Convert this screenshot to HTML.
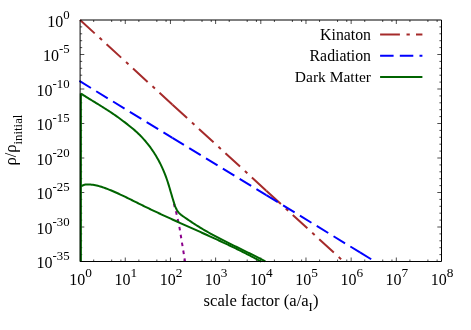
<!DOCTYPE html>
<html><head><meta charset="utf-8"><title>plot</title>
<style>html,body{margin:0;padding:0;background:#fff;}svg{display:block;will-change:transform;}text{font-family:"Liberation Serif",serif;fill:#000;}</style></head><body>
<svg width="471" height="330" viewBox="0 0 471 330">
<rect x="0" y="0" width="471" height="330" fill="#fff"/>
<path d="M93.70 261.5v-2M93.70 20.0v2M111.68 261.5v-2M111.68 20.0v2M120.90 261.5v-2M120.90 20.0v2M125.27 261.5v-4M125.27 20.0v4M138.87 261.5v-2M138.87 20.0v2M156.85 261.5v-2M156.85 20.0v2M166.07 261.5v-2M166.07 20.0v2M170.45 261.5v-4M170.45 20.0v4M184.05 261.5v-2M184.05 20.0v2M202.03 261.5v-2M202.03 20.0v2M211.25 261.5v-2M211.25 20.0v2M215.62 261.5v-4M215.62 20.0v4M229.22 261.5v-2M229.22 20.0v2M247.20 261.5v-2M247.20 20.0v2M256.42 261.5v-2M256.42 20.0v2M260.80 261.5v-4M260.80 20.0v4M274.40 261.5v-2M274.40 20.0v2M292.38 261.5v-2M292.38 20.0v2M301.60 261.5v-2M301.60 20.0v2M305.98 261.5v-4M305.98 20.0v4M319.57 261.5v-2M319.57 20.0v2M337.55 261.5v-2M337.55 20.0v2M346.77 261.5v-2M346.77 20.0v2M351.15 261.5v-4M351.15 20.0v4M364.75 261.5v-2M364.75 20.0v2M382.73 261.5v-2M382.73 20.0v2M391.95 261.5v-2M391.95 20.0v2M396.32 261.5v-4M396.32 20.0v4M409.92 261.5v-2M409.92 20.0v2M427.90 261.5v-2M427.90 20.0v2M437.12 261.5v-2M437.12 20.0v2M80.1 26.90h2.1M441.5 26.90h-2.1M80.1 33.80h2.1M441.5 33.80h-2.1M80.1 40.70h2.1M441.5 40.70h-2.1M80.1 47.60h2.1M441.5 47.60h-2.1M80.1 54.50h4.2M441.5 54.50h-4.2M80.1 61.40h2.1M441.5 61.40h-2.1M80.1 68.30h2.1M441.5 68.30h-2.1M80.1 75.20h2.1M441.5 75.20h-2.1M80.1 82.10h2.1M441.5 82.10h-2.1M80.1 89.00h4.2M441.5 89.00h-4.2M80.1 95.90h2.1M441.5 95.90h-2.1M80.1 102.80h2.1M441.5 102.80h-2.1M80.1 109.70h2.1M441.5 109.70h-2.1M80.1 116.60h2.1M441.5 116.60h-2.1M80.1 123.50h4.2M441.5 123.50h-4.2M80.1 130.40h2.1M441.5 130.40h-2.1M80.1 137.30h2.1M441.5 137.30h-2.1M80.1 144.20h2.1M441.5 144.20h-2.1M80.1 151.10h2.1M441.5 151.10h-2.1M80.1 158.00h4.2M441.5 158.00h-4.2M80.1 164.90h2.1M441.5 164.90h-2.1M80.1 171.80h2.1M441.5 171.80h-2.1M80.1 178.70h2.1M441.5 178.70h-2.1M80.1 185.60h2.1M441.5 185.60h-2.1M80.1 192.50h4.2M441.5 192.50h-4.2M80.1 199.40h2.1M441.5 199.40h-2.1M80.1 206.30h2.1M441.5 206.30h-2.1M80.1 213.20h2.1M441.5 213.20h-2.1M80.1 220.10h2.1M441.5 220.10h-2.1M80.1 227.00h4.2M441.5 227.00h-4.2M80.1 233.90h2.1M441.5 233.90h-2.1M80.1 240.80h2.1M441.5 240.80h-2.1M80.1 247.70h2.1M441.5 247.70h-2.1M80.1 254.60h2.1M441.5 254.60h-2.1" stroke="#000" stroke-width="0.7" fill="none"/>
<path d="M80.10 20.00L172.50 104.68" stroke="#a52a2a" stroke-width="2.0" stroke-dasharray="19.8 6.6 3.3 6.2" fill="none"/>
<path d="M172.50 104.68L266.30 190.64" stroke="#a52a2a" stroke-width="2.0" stroke-dasharray="19.8 6.6 3.3 6.2" fill="none"/>
<path d="M266.30 190.64L343.62 261.50" stroke="#a52a2a" stroke-width="2.0" stroke-dasharray="19.8 6.6 3.3 6.2" fill="none"/>
<path d="M79.40 80.97L172.40 137.79" stroke="#0000ff" stroke-width="2.0" stroke-dasharray="13.5 6.2" fill="none"/>
<path d="M172.40 137.79L266.30 195.16" stroke="#0000ff" stroke-width="2.0" stroke-dasharray="13.5 6.2" fill="none"/>
<path d="M266.30 195.16L360.00 252.41" stroke="#0000ff" stroke-width="2.0" stroke-dasharray="13.5 6.2" fill="none"/>
<path d="M360.00 252.41L371.20 259.25" stroke="#0000ff" stroke-width="2.0" stroke-dasharray="13.5 6.2" fill="none"/>
<path d="M173.4 201.2L174.0 203.8L175.0 208.8L176.3 212.8L178.0 220.4L179.5 227.6L185.05 261.5" stroke="#8b008b" stroke-width="2" stroke-dasharray="3.6 4.4" stroke-dashoffset="5.67" fill="none"/>
<path d="M80.85 261.8V93.4" stroke="#006400" stroke-width="2.1" fill="none"/>
<path d="M80.91 93.58L82.29 94.46L83.67 95.33L85.05 96.19L86.44 97.06L87.83 97.92L89.22 98.78L90.61 99.64L92.01 100.49L93.40 101.35L94.80 102.20L96.19 103.06L97.58 103.92L98.97 104.77L100.36 105.64L101.75 106.50L103.14 107.37L104.52 108.24L105.89 109.12L107.27 110.00L108.64 110.89L110.00 111.78L111.36 112.68L112.71 113.59L114.05 114.51L115.39 115.43L116.72 116.37L118.04 117.31L119.36 118.26L120.67 119.23L121.98 120.20L123.28 121.18L124.57 122.16L125.87 123.16L127.16 124.16L128.45 125.17L129.73 126.18L131.01 127.21L132.28 128.25L133.54 129.30L134.78 130.37L136.00 131.45L137.21 132.56L138.40 133.68L139.57 134.82L140.72 135.97L141.85 137.15L142.96 138.34L144.05 139.55L145.13 140.78L146.18 142.03L147.22 143.29L148.23 144.57L149.23 145.86L150.21 147.17L151.16 148.49L152.10 149.83L153.02 151.19L153.92 152.55L154.80 153.93L155.66 155.32L156.50 156.73L157.32 158.15L158.12 159.57L158.90 161.01L159.66 162.46L160.40 163.92L161.12 165.39L161.82 166.87L162.51 168.35L163.17 169.85L163.81 171.35L164.43 172.86L165.03 174.38L165.61 175.90L166.18 177.43L166.72 178.97L167.24 180.51L167.75 182.06L168.24 183.61L168.73 185.16L169.20 186.72L169.67 188.28L170.13 189.85L170.58 191.41L171.04 192.98L171.50 194.55L171.96 196.12L172.42 197.69L172.90 199.26L173.38 200.84L173.88 202.41L174.39 203.98L174.92 205.54L175.50 207.08L176.14 208.57L176.87 210.00L177.71 211.36L178.69 212.62L179.81 213.77L181.05 214.83L182.38 215.82L183.75 216.78L185.13 217.71L186.50 218.64L187.86 219.57L189.22 220.49L190.57 221.40L191.93 222.31L193.28 223.21L194.64 224.10L196.00 224.98L197.38 225.85L198.75 226.71L200.14 227.56L201.53 228.40L202.93 229.24L204.33 230.06L205.74 230.88L207.15 231.69L208.57 232.50L209.99 233.29L211.42 234.08L212.85 234.86L214.29 235.64L215.73 236.41L217.17 237.18L218.62 237.94L220.07 238.69L221.53 239.44L222.98 240.19L224.44 240.93L225.90 241.67L227.37 242.41L228.83 243.14L230.30 243.87L231.77 244.60L233.24 245.32L234.71 246.05L236.18 246.77L237.65 247.49L239.12 248.21L240.59 248.93L242.07 249.65L243.54 250.37L245.01 251.09L246.48 251.81L247.95 252.53L249.41 253.26L250.88 253.98L252.34 254.71L253.80 255.44L255.26 256.17L256.72 256.91L258.17 257.65L259.62 258.39L261.07 259.14L262.51 259.89L263.95 260.64L265.39 261.40" stroke="#006400" stroke-width="2.0" fill="none" stroke-linejoin="round"/>
<path d="M81.10 186.45L82.16 185.74L83.26 185.20L84.41 184.82L85.59 184.57L86.79 184.43L88.02 184.39L89.25 184.43L90.49 184.52L91.72 184.66L92.95 184.83L94.17 185.03L95.38 185.26L96.59 185.53L97.80 185.82L99.00 186.13L100.19 186.47L101.38 186.83L102.57 187.21L103.75 187.61L104.92 188.02L106.09 188.45L107.26 188.90L108.42 189.35L109.58 189.82L110.73 190.29L111.88 190.77L113.03 191.25L114.17 191.75L115.31 192.24L116.45 192.75L117.58 193.26L118.71 193.77L119.84 194.29L120.96 194.82L122.09 195.34L123.21 195.88L124.33 196.41L125.44 196.95L126.56 197.49L127.67 198.04L128.79 198.58L129.90 199.13L131.01 199.68L132.12 200.23L133.23 200.79L134.34 201.34L135.44 201.89L136.55 202.45L137.66 203.00L138.77 203.55L139.88 204.11L140.99 204.66L142.10 205.20L143.22 205.75L144.33 206.30L145.44 206.84L146.56 207.38L147.68 207.92L148.79 208.46L149.91 209.00L151.03 209.53L152.15 210.07L153.27 210.60L154.39 211.13L155.51 211.66L156.64 212.19L157.76 212.71L158.88 213.24L160.01 213.76L161.14 214.29L162.26 214.81L163.39 215.33L164.52 215.85L165.64 216.37L166.77 216.89L167.90 217.40L169.03 217.92L170.16 218.44L171.29 218.95L172.42 219.47L173.55 219.98L174.69 220.49L175.82 221.00L176.95 221.52L178.08 222.03L179.22 222.54L180.35 223.05L181.48 223.56L182.62 224.07L183.75 224.58L184.89 225.08L186.02 225.59L187.15 226.10L188.29 226.61L189.42 227.12L190.56 227.63L191.69 228.14L192.83 228.65L193.96 229.15L195.10 229.66L196.23 230.17L197.37 230.68L198.50 231.19L199.63 231.70L200.77 232.21L201.90 232.72L203.04 233.23L204.17 233.75L205.30 234.26L206.43 234.77L207.57 235.28L208.70 235.80L209.83 236.31L210.96 236.83L212.09 237.35L213.22 237.86L214.35 238.38L215.48 238.90L216.61 239.42L217.74 239.94L218.87 240.47L220.00 240.99L221.12 241.52L222.25 242.04L223.38 242.57L224.50 243.10L225.63 243.63L226.75 244.16L227.87 244.69L229.00 245.23L230.12 245.76L231.24 246.30L232.36 246.84L233.48 247.38L234.59 247.92L235.71 248.47L236.83 249.01L237.94 249.56L239.06 250.11L240.17 250.66L241.28 251.22L242.39 251.77L243.51 252.33L244.61 252.89L245.72 253.45L246.83 254.02L247.94 254.58L249.04 255.15L250.14 255.72L251.25 256.30L252.35 256.87L253.45 257.45L254.55 258.03L255.64 258.62L256.74 259.20L257.83 259.79L258.93 260.38L260.02 260.98L261.11 261.58" stroke="#006400" stroke-width="2.0" fill="none" stroke-linejoin="round"/>
<path d="M80.1 20.0H441.5V261.5H80.1Z" stroke="#000" stroke-width="1" fill="none"/>
<text x="69.6" y="26.9" text-anchor="end" font-size="16">10<tspan font-size="12.8" dy="-8.3">0</tspan></text>
<text x="69.6" y="61.4" text-anchor="end" font-size="16">10<tspan font-size="12.8" dy="-8.3">-5</tspan></text>
<text x="69.6" y="95.9" text-anchor="end" font-size="16">10<tspan font-size="12.8" dy="-8.3">-10</tspan></text>
<text x="69.6" y="130.4" text-anchor="end" font-size="16">10<tspan font-size="12.8" dy="-8.3">-15</tspan></text>
<text x="69.6" y="164.9" text-anchor="end" font-size="16">10<tspan font-size="12.8" dy="-8.3">-20</tspan></text>
<text x="69.6" y="199.4" text-anchor="end" font-size="16">10<tspan font-size="12.8" dy="-8.3">-25</tspan></text>
<text x="69.6" y="233.9" text-anchor="end" font-size="16">10<tspan font-size="12.8" dy="-8.3">-30</tspan></text>
<text x="69.6" y="268.4" text-anchor="end" font-size="16">10<tspan font-size="12.8" dy="-8.3">-35</tspan></text>
<text x="69.3" y="284.8" font-size="16">10<tspan font-size="13.3" dy="-8.3">0</tspan></text>
<text x="114.5" y="284.8" font-size="16">10<tspan font-size="13.3" dy="-8.3">1</tspan></text>
<text x="159.7" y="284.8" font-size="16">10<tspan font-size="13.3" dy="-8.3">2</tspan></text>
<text x="204.8" y="284.8" font-size="16">10<tspan font-size="13.3" dy="-8.3">3</tspan></text>
<text x="250.0" y="284.8" font-size="16">10<tspan font-size="13.3" dy="-8.3">4</tspan></text>
<text x="295.2" y="284.8" font-size="16">10<tspan font-size="13.3" dy="-8.3">5</tspan></text>
<text x="340.4" y="284.8" font-size="16">10<tspan font-size="13.3" dy="-8.3">6</tspan></text>
<text x="385.5" y="284.8" font-size="16">10<tspan font-size="13.3" dy="-8.3">7</tspan></text>
<text x="430.7" y="284.8" font-size="16">10<tspan font-size="13.3" dy="-8.3">8</tspan></text>
<text x="261" y="306" text-anchor="middle" font-size="16.6">scale factor (a/a<tspan font-size="12.8" dy="4.6">I</tspan><tspan dy="-4.6">)</tspan></text>
<text transform="translate(15.9,166.1) rotate(-90)" x="26" y="0" text-anchor="middle" font-size="16.6">ρ/ρ<tspan font-size="12.8" dy="6.4">initial</tspan></text>
<path d="M380.1 34.50H422.4" stroke="#a52a2a" stroke-width="2.0" stroke-dasharray="19.8 6.6 3.3 6.2" fill="none"/>
<path d="M380.1 55.75H422.4" stroke="#0000ff" stroke-width="2.0" stroke-dasharray="13.5 6.2" fill="none"/>
<path d="M380.1 77.00H422.4" stroke="#006400" stroke-width="2.0" fill="none"/>
<text x="371" y="39.65" text-anchor="end" font-size="15.8">Kinaton</text>
<text x="371" y="60.9" text-anchor="end" font-size="15.8">Radiation</text>
<text x="371" y="82.15" text-anchor="end" font-size="15.5">Dark Matter</text>
</svg></body></html>
